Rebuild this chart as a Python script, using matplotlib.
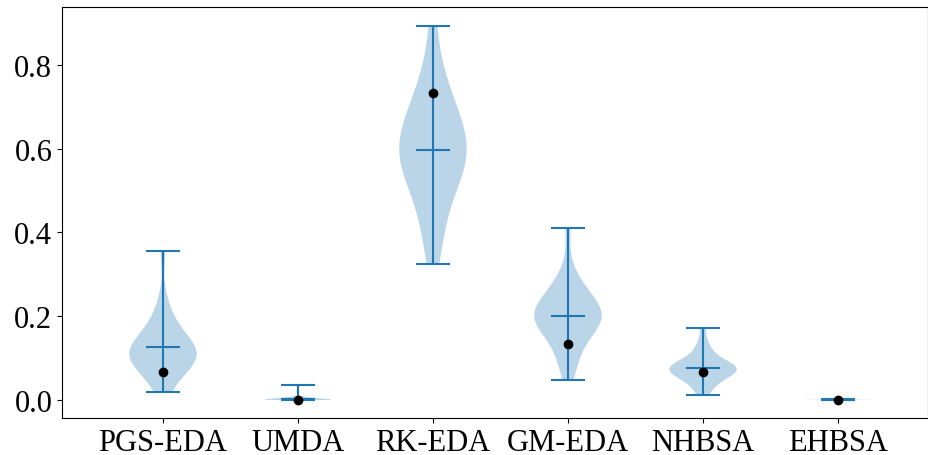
import matplotlib
matplotlib.use("Agg")
import matplotlib.pyplot as plt

# algorithm names and per-run results
algos = ["PGS-EDA", "UMDA", "RK-EDA", "GM-EDA", "NHBSA", "EHBSA"]

pgs_eda = [0.018, 0.040, 0.055, 0.065, 0.078, 0.085, 0.090, 0.095, 0.099, 0.103,
           0.106, 0.110, 0.114, 0.118, 0.123, 0.128, 0.135, 0.142, 0.150, 0.160,
           0.172, 0.185, 0.205, 0.240, 0.357]
umda = [0.0, 0.0, 0.0, 0.0005, 0.0, 0.001, 0.0, 0.0, 0.0, 0.002,
        0.0, 0.0, 0.0, 0.0, 0.0, 0.001, 0.0, 0.0, 0.0, 0.0,
        0.0, 0.0, 0.005, 0.020, 0.035]
rk_eda = [0.325, 0.380, 0.420, 0.455, 0.485, 0.510, 0.530, 0.545, 0.555, 0.565,
          0.575, 0.585, 0.595, 0.610, 0.620, 0.635, 0.645, 0.655, 0.670, 0.690,
          0.710, 0.730, 0.760, 0.800, 0.892]
gm_eda = [0.047, 0.085, 0.100, 0.120, 0.145, 0.155, 0.165, 0.175, 0.180, 0.185,
          0.190, 0.195, 0.200, 0.205, 0.210, 0.215, 0.220, 0.225, 0.235, 0.245,
          0.255, 0.265, 0.280, 0.310, 0.410]
nhbsa = [0.011, 0.025, 0.035, 0.042, 0.053, 0.057, 0.060, 0.063, 0.066, 0.068,
         0.070, 0.072, 0.074, 0.076, 0.078, 0.080, 0.083, 0.086, 0.088, 0.092,
         0.100, 0.110, 0.125, 0.135, 0.172]
ehbsa = [0.0, 0.0005, 0.001, 0.0, 0.0015, 0.0, 0.0005, 0.001, 0.002, 0.0,
         0.0, 0.0005, 0.001, 0.0, 0.0005, 0.0, 0.001, 0.0, 0.0005, 0.0]

# highlighted value for each algorithm (black dots)
best = [0.066, 0.0, 0.733, 0.133, 0.066, 0.0]

plt.rcParams['font.family'] = ['Liberation Serif', 'DejaVu Serif']

fig = plt.figure(figsize=(9.29, 4.56), dpi=100)
ax = fig.add_axes([62 / 929, 37 / 456, 866 / 929, 411 / 456])

data = [pgs_eda, umda, rk_eda, gm_eda, nhbsa, ehbsa]
pos = list(range(1, len(algos) + 1))
ax.violinplot(data, positions=pos, showmeans=True, showextrema=True)
ax.plot(pos, best, 'ko', markersize=6, linestyle='none', zorder=3)

ax.set_xticks(pos)
ax.set_xticklabels(algos, fontsize=22)
ax.set_yticks([0.0, 0.2, 0.4, 0.6, 0.8])
ax.tick_params(axis='y', labelsize=22)
ax.set_xlim(0.252, 6.667)
ax.set_ylim(-0.043, 0.9385)

fig.savefig("out.png", dpi=100)
